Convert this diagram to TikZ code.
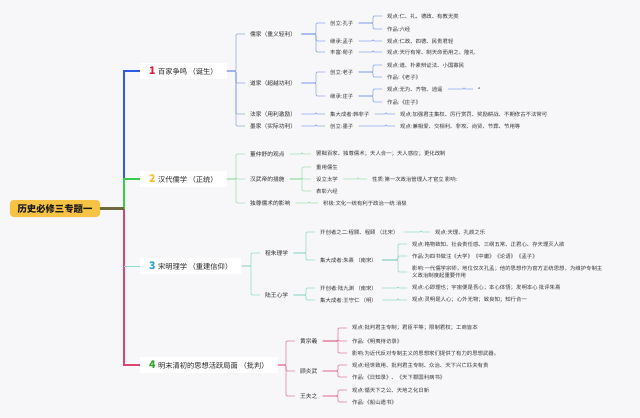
\documentclass[tikz,border=0pt]{standalone}
\usepackage{fontspec}
\setmainfont{Noto Sans CJK SC}
\usepackage{xcolor}
\usepackage{tikz}
\usetikzlibrary{positioning}
\definecolor{bggray}{HTML}{F7F7F9}
\definecolor{rootyel}{HTML}{F6C344}
\definecolor{rootline}{HTML}{6E6A3C}
\definecolor{oneblue}{HTML}{2D5BE3}
\definecolor{onelight}{HTML}{8EA6EE}
\definecolor{twogreen}{HTML}{3DCB4E}
\definecolor{twolight}{HTML}{A6E0B0}
\definecolor{threelight}{HTML}{93D9C9}
\definecolor{fourpink}{HTML}{D9466F}
\definecolor{fourlight}{HTML}{E57C9B}
\definecolor{numred}{HTML}{D81B3C}
\definecolor{numyel}{HTML}{F2C12E}
\definecolor{numblue}{HTML}{2AA0DC}
\definecolor{numgreen}{HTML}{2EA52E}
% branch number and bracket connectors
\newcommand{\bnum}[2]{{\fontsize{9}{9}\selectfont\bfseries\color{#1}#2}\hspace{2pt}}
\newcommand{\linkall}[3]{\foreach \c in {#3}{\draw[#1] (#2.east) -| ([xshift=-0.27cm]\c.west) -- (\c.west);}}

\begin{document}
\begin{tikzpicture}[x=0.03cm,y=-0.03cm,
    leaf/.style={anchor=west,inner xsep=0.15cm,inner ysep=1pt,font=\fontsize{4.6}{5.6}\selectfont,text=black!78},
    topic/.style={leaf,font=\fontsize{4.9}{5.8}\selectfont,text=black!82},
    branch/.style={anchor=west,fill=white,inner xsep=0.27cm,minimum height=0.42cm,font=\fontsize{6.2}{7}\selectfont,text=black!85},
    rootbox/.style={fill=rootyel,rounded corners=3pt,minimum width=2.7cm,minimum height=0.51cm,font=\fontsize{8}{9}\selectfont\bfseries,text=black!90},
    onelink/.style={onelight,line width=0.6pt,rounded corners=1pt},
    twolink/.style={twolight,line width=0.6pt,rounded corners=1pt},
    threelink/.style={threelight,line width=0.6pt,rounded corners=1pt},
    fourlink/.style={fourlight,line width=0.6pt,rounded corners=1pt}]
  % background
  \fill[bggray] (0,0) rectangle (640,418);
  \useasboundingbox (0,0) rectangle (640,418);
  % root and trunk
  \node[rootbox] (root) at (55,208.5) {历史必修三专题一};
  \coordinate (trunk) at (124,208.5);
  % branch labels
  \node[branch] (b1) at (140,71) {\bnum{numred}{1}百家争鸣 （诞生）};
  \node[branch] (b2) at (140,179) {\bnum{numyel}{2}汉代儒学 （正统）};
  \node[branch] (b3) at (140,266) {\bnum{numblue}{3}宋明理学 （重建信仰）};
  \node[branch] (b4) at (140,365) {\bnum{numgreen}{4}明末清初的思想活跃局面 （批判）};
  \draw[oneblue,line width=1.4pt] (trunk) |- (b1.west);
  \draw[twogreen,line width=1.4pt] (trunk) |- (b2.west);
  \draw[fourpink,line width=1.1pt] (trunk) |- (b4.west);
  \draw[threelight,line width=0.7pt] (trunk |- b3.west) -- (b3.west);
  \draw[rootline,line width=1.8pt] (root.east) -- (trunk);

  % 1 百家争鸣
  \node[topic] (rujia) at (245,34) {儒家（重义轻利）};
  \node[topic] (daojia) at (245,83) {道家（超越功利）};
  \node[topic] (fajia) at (245,114) {法家（用利激励）};
  \node[topic] (mojia) at (245,126) {墨家（实际功利）};
  \node[leaf] (kongzi) at (325,23) {创立:孔子};
  \node[leaf] (mengzi) at (325,41) {继承:孟子};
  \node[leaf] (xunzi) at (325,52) {丰富:荀子};
  \node[leaf] (kzview) at (382,16) {观点:仁、礼、德政、有教无类};
  \node[leaf] (kzwork) at (382,29) {作品:六经};
  \node[leaf] (mzview) at (382,41) {观点:仁政、四德、民贵君轻};
  \node[leaf] (xzview) at (382,52) {观点:天行有常、制天命而用之、隆礼};
  \node[leaf] (laozi) at (325,72) {创立:老子};
  \node[leaf] (zhuangzi) at (325,96) {继承:庄子};
  \node[leaf] (lzview) at (382,65) {观点:道、朴素辩证法、小国寡民};
  \node[leaf] (lzwork) at (382,77) {作品:《老子》};
  \node[leaf] (zzview) at (382,89) {观点:无为、齐物、逍遥};
  \node[leaf] (zzwork) at (382,102) {作品:《庄子》};
  \node[leaf,font=\fontsize{3}{3}\selectfont] (zznote) at (473,89) {a};
  \node[leaf] (hanfei) at (325,114) {集大成者:韩非子};
  \node[leaf] (hfview) at (395,114) {观点:加强君主集权、厉行赏罚、奖励耕战、不期修古不法常可};
  \node[leaf] (mozi) at (325,126) {创立:墨子};
  \node[leaf] (mozview) at (395,126) {观点:兼相爱、交相利、非攻、尚贤、节葬、节用等};
  \linkall{onelink}{b1}{rujia,daojia,fajia,mojia}
  \linkall{onelink}{rujia}{kongzi,mengzi,xunzi}
  \linkall{onelink}{kongzi}{kzview,kzwork}
  \linkall{onelink}{mengzi}{mzview}
  \linkall{onelink}{xunzi}{xzview}
  \linkall{onelink}{daojia}{laozi,zhuangzi}
  \linkall{onelink}{laozi}{lzview,lzwork}
  \linkall{onelink}{zhuangzi}{zzview,zzwork}
  \linkall{onelink}{zzview}{zznote}
  \linkall{onelink}{fajia}{hanfei}
  \linkall{onelink}{hanfei}{hfview}
  \linkall{onelink}{mojia}{mozi}
  \linkall{onelink}{mozi}{mozview}

  % 2 汉代儒学
  \node[topic] (dongview) at (245,154) {董仲舒的观点};
  \node[topic] (wudi) at (245,179) {汉武帝的措施};
  \node[topic] (effect) at (245,203) {独尊儒术的影响};
  \node[leaf] (dongtxt) at (311,154) {罢黜百家、独尊儒术；天人合一；天人感应；更化改制};
  \node[leaf] (rusheng) at (311,167) {重用儒生};
  \node[leaf] (taixue) at (311,179) {设立太学};
  \node[leaf] (liujing) at (311,191) {表彰六经};
  \node[leaf] (txview) at (367,179) {性质:第一次政治管理人才官立 影响:};
  \node[leaf] (efftxt) at (318,203) {积极:文化一统有利于政治一统 消极};
  \linkall{twolink}{b2}{dongview,wudi,effect}
  \linkall{twolink}{dongview}{dongtxt}
  \linkall{twolink}{wudi}{rusheng,taixue,liujing}
  \linkall{twolink}{taixue}{txview}
  \linkall{twolink}{effect}{efftxt}

  % 3 宋明理学
  \node[topic] (chengzhu) at (260,253) {程朱理学};
  \node[topic] (luwang) at (260,295) {陆王心学};
  \node[leaf] (cheng) at (315,232) {开创者之二:程颢、程颐 （北宋）};
  \node[leaf] (zhuxi) at (315,260) {集大成者:朱熹 （南宋）};
  \node[leaf] (chview) at (430,232) {观点:天理、孔颜之乐};
  \node[leaf] (zxview) at (407,244) {观点:格物致知、社会责任感、三纲五常、正君心、存天理灭人欲};
  \node[leaf] (zxwork) at (407,256) {作品:为四书做注《大学》《中庸》《论语》《孟子》};
  \node[leaf,align=left] (zxeff) at (407,272) {影响:一代儒学宗师，地位仅次孔孟；他的思想作为官方正统思想，为维护专制主\\义政治制度起重要作用};
  \node[leaf] (lu) at (315,288) {开创者:陆九渊 （南宋）};
  \node[leaf] (wang) at (315,300) {集大成者:王守仁 （明）};
  \node[leaf] (luview) at (407,288) {观点:心即理也；宇宙便是吾心；本心体悟；发明本心 批评朱熹};
  \node[leaf] (wangview) at (407,300) {观点:灵明是人心；心外无物；致良知；知行合一};
  \linkall{threelink}{b3}{chengzhu,luwang}
  \linkall{threelink}{chengzhu}{cheng,zhuxi}
  \linkall{threelink}{cheng}{chview}
  \linkall{threelink}{zhuxi}{zxview,zxwork,zxeff}
  \linkall{threelink}{luwang}{lu,wang}
  \linkall{threelink}{lu}{luview}
  \linkall{threelink}{wang}{wangview}

  % 4 明末清初
  \node[topic] (huang) at (295,341) {黄宗羲};
  \node[topic] (gu) at (295,371) {顾炎武};
  \node[topic] (wangfz) at (295,396) {王夫之};
  \node[leaf] (hview) at (347,328) {观点:批判君主专制；君臣平等；限制君权；工商皆本};
  \node[leaf] (hwork) at (347,341) {作品:《明夷待访录》};
  \node[leaf] (heff) at (347,353) {影响:为近代反对专制主义的思想家们提供了有力的思想武器。};
  \node[leaf] (gview) at (347,365) {观点:经世致用、批判君主专制、众治、天下兴亡匹夫有责};
  \node[leaf] (gwork) at (347,377) {作品:《日知录》、《天下郡国利病书》};
  \node[leaf] (wview) at (347,390) {观点:循天下之公、天地之化日新};
  \node[leaf] (wwork) at (347,402) {作品:《船山遗书》};
  \linkall{fourlink}{b4}{huang,gu,wangfz}
  \linkall{fourlink}{huang}{hview,hwork,heff}
  \linkall{fourlink}{gu}{gview,gwork}
  \linkall{fourlink}{wangfz}{wview,wwork}
\end{tikzpicture}
\end{document}
